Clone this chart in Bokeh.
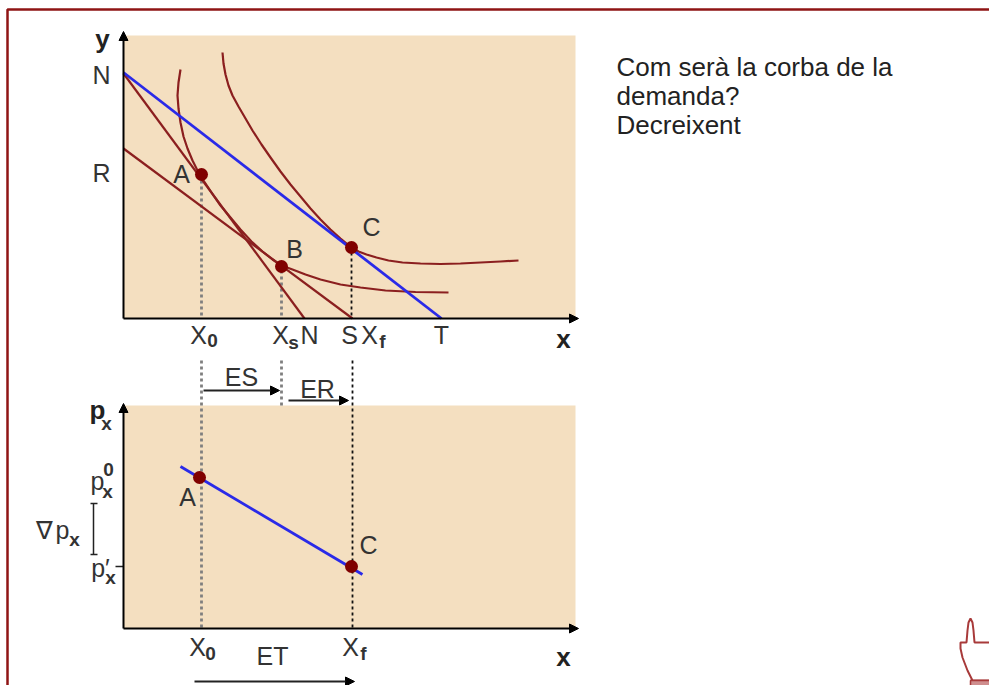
from bokeh.plotting import figure
from bokeh.models import Arrow, NormalHead
from bokeh.core.properties import value
from bokeh.embed import file_html
from bokeh.resources import INLINE

# ---- panel areas: left, right, top, bottom
panel_top = (123, 575, 35, 318)
panel_bottom = (123, 575, 405, 628)

# ---- curves
indiff_0_x = [180, 178, 177, 178, 180, 183, 187, 192, 197, 203, 211, 220, 230, 240, 251, 262, 272, 281, 292, 305, 320, 340, 360, 385, 415, 448]
indiff_0_y = [69, 82, 95, 108, 122, 136, 148, 160, 170, 180, 192, 205, 217, 229, 241, 251, 259, 265, 269, 274, 279, 284, 287, 290, 291.5, 292]
indiff_1_x = [222, 223, 225, 228, 232, 238, 245, 252, 261, 270, 280, 290, 300, 310, 320, 330, 340, 351, 358, 366, 376, 388, 402, 420, 440, 460, 480, 500, 518]
indiff_1_y = [52, 63, 74, 85, 95, 106, 118, 130, 144, 157, 171, 184, 196, 208, 219, 229, 238, 247, 251, 254, 257, 260, 262, 263, 263.5, 263, 262, 261, 260]

budget_n_x = [123, 304]
budget_n_y = [73, 318]
budget_r_x = [123, 352]
budget_r_y = [148, 318]
budget_t_x = [123, 441]
budget_t_y = [72, 318]
demand_x = [180, 362]
demand_y = [466, 574]

# ---- marked points
points_x = [201, 281, 351, 199, 351]
points_y = [174, 266, 247, 477, 566]

# ---- dotted guides
grey_guides_x = [[201, 201], [201, 201], [281, 281], [281, 281]]
grey_guides_y = [[180, 318], [360, 628], [270, 318], [360, 408]]
black_guides_x = [[351, 351], [352, 352]]
black_guides_y = [[252, 318], [360, 628]]

# ---- labels
regular_text = ["N", "R", "A", "B", "C", "X", "X", "N", "S", "X", "T", "ES", "ER",
                "A", "C", "X", "ET", "X", "p", "p", "\u2207", "p\u2032"]
regular_x = [101, 101, 181, 294, 371, 198, 280, 309, 349, 369, 441, 241, 317,
             187, 368, 197, 272, 350, 97, 62, 44, 100]
regular_y = [74, 172, 173, 248, 226, 334, 334, 334, 334, 334, 334, 376, 388,
             496, 544, 646, 655, 646, 480, 529, 529, 567]
bold_text = ["y", "x", "x", "p"]
bold_x = [102, 563, 563, 97]
bold_y = [38, 338, 656, 409]
sub_text = ["0", "s", "f", "0", "f", "0", "x", "x", "x", "x"]
sub_x = [212, 293, 382, 210, 363, 108, 106, 107, 74, 110]
sub_y = [340, 342, 341, 653, 653, 469, 423, 491, 539, 577]
note_lines = ["Com ser\u00e0 la corba de la", "demanda?", "Decreixent"]
note_x = [616, 616, 616]
note_y = [66, 95, 124]

# ---- arrows: x0, y0, x1, y1
axis_arrows = [(123, 318, 123, 31), (123, 318, 578, 318), (123, 628, 123, 403), (123, 628, 578, 628)]
effect_arrows = [(203, 390, 279, 390), (288, 400, 348, 400), (194, 681, 354, 681)]

# ---- nabla bracket and p' tick
bracket_x = [[93, 93], [90, 97], [90, 97], [115, 123]]
bracket_y = [[503, 554], [503, 503], [554, 554], [566, 566]]

# ---- frame and pointer icon
frame_x = [7, 7, 989]
frame_y = [685, 9, 9]
hand_x = [972, 967, 962, 960, 960, 966, 967, 968, 970, 972, 973, 974, 982, 989, 997, 997, 970]
hand_y = [680, 670, 657, 648, 642, 642, 630, 622, 618, 622, 630, 642, 642, 642, 645, 680, 680]
cuff_x = [970, 997, 997, 970]
cuff_y = [680, 680, 691, 691]

BROWN = "#f4dfc0"
DARK = "#8b1f1f"
POINT = "#800000"
BLUE = "#2a2ae8"
TEXT = "#333333"
FONT = value("Liberation Sans")

p = figure(width=989, height=685, x_range=(0, 989), y_range=(685, 0),
           output_backend="svg", toolbar_location=None,
           min_border=0, outline_line_color=None, background_fill_color="white",
           border_fill_color="white")
p.axis.visible = False
p.grid.visible = False

for l, r, t, b in (panel_top, panel_bottom):
    p.quad(left=[l], right=[r], top=[t], bottom=[b], fill_color=BROWN, line_color=None)

p.multi_line(grey_guides_x, grey_guides_y, line_color="#7f7f7f", line_width=2.8, line_dash="3 3")
p.multi_line(black_guides_x, black_guides_y, line_color="#111111", line_width=1.8, line_dash="3 3")

for xs, ys in ((indiff_0_x, indiff_0_y), (indiff_1_x, indiff_1_y),
               (budget_n_x, budget_n_y), (budget_r_x, budget_r_y)):
    p.line(xs, ys, line_color=DARK, line_width=2.2, line_join="round")
p.line(budget_t_x, budget_t_y, line_color=BLUE, line_width=2.8)
p.line(demand_x, demand_y, line_color=BLUE, line_width=2.8)

p.scatter(points_x, points_y, size=13, marker="circle", fill_color=POINT, line_color=None)

for x0, y0, x1, y1 in axis_arrows:
    p.add_layout(Arrow(end=NormalHead(size=9, fill_color="black", line_color="black"),
                       x_start=x0, y_start=y0, x_end=x1, y_end=y1,
                       line_color="black", line_width=2))
for x0, y0, x1, y1 in effect_arrows:
    p.add_layout(Arrow(end=NormalHead(size=9, fill_color="black", line_color="black"),
                       x_start=x0, y_start=y0, x_end=x1, y_end=y1,
                       line_color="#222222", line_width=1.8))

p.multi_line(bracket_x, bracket_y, line_color="#222222", line_width=1.5)

p.text(regular_x, regular_y, text=regular_text, text_font=FONT, text_font_size="25px",
       text_color=TEXT, text_align="center", text_baseline="middle")
p.text(bold_x, bold_y, text=bold_text, text_font=FONT, text_font_size="26px", text_font_style="bold",
       text_color="#222222", text_align="center", text_baseline="middle")
p.text(sub_x, sub_y, text=sub_text, text_font=FONT, text_font_size="19px", text_font_style="bold",
       text_color=TEXT, text_align="center", text_baseline="middle")
p.text(note_x, note_y, text=note_lines, text_font=FONT, text_font_size="26px",
       text_color="#222222", text_align="left", text_baseline="middle")

p.line(frame_x, frame_y, line_color="#8f1414", line_width=2.5)
p.patch(hand_x, hand_y, fill_color="white", line_color="#a83a3a", line_width=2)
p.patch(cuff_x, cuff_y, fill_color="#cf8e8e", line_color="#a83a3a", line_width=1.5)

open("out.html", "w").write(file_html(p, INLINE))
